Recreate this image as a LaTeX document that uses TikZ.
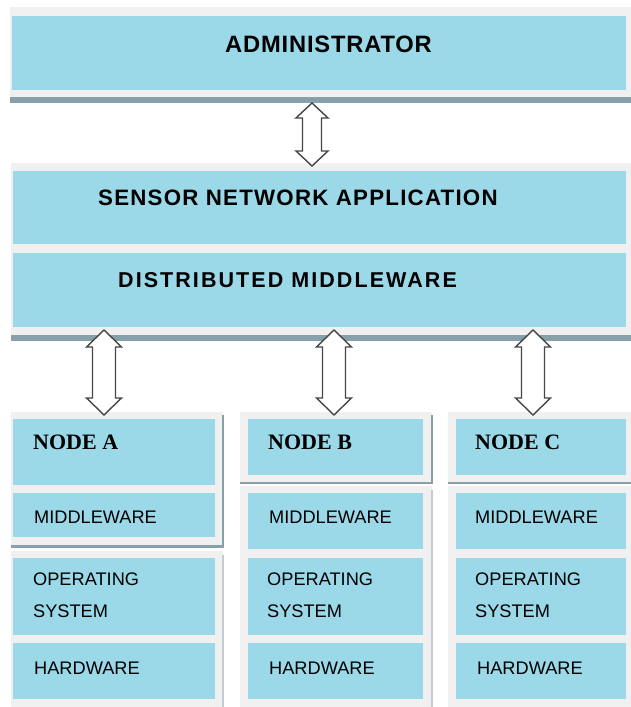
\documentclass[tikz,border=0pt]{standalone}
\usepackage{fontspec}
\setmainfont{Liberation Sans}
\newfontfamily\smallfont{Liberation Sans}
\newfontfamily\headA[LetterSpace=3.5]{Liberation Sans}
\newfontfamily\headB[LetterSpace=5.5]{Liberation Sans}
\newfontfamily\headC[LetterSpace=9.6]{Liberation Sans}
\newfontfamily\nodefont{Liberation Serif}
\definecolor{boxblue}{RGB}{155,216,232}
\definecolor{framegray}{RGB}{240,240,240}
\definecolor{shadowc}{RGB}{135,160,170}
\definecolor{edgec}{RGB}{150,170,178}
\definecolor{arrowc}{RGB}{70,70,70}
\tikzset{
  framebox/.style={fill=framegray, draw=none, inner sep=0pt, anchor=north west},
  bluebox/.style={fill=boxblue, draw=none, inner sep=0pt, anchor=north west},
  shadowbar/.style={fill=shadowc, draw=none},
  edgebar/.style={fill=edgec, draw=none},
  headtxt/.style={anchor=base west, inner sep=0pt, text=black},
  nodetxt/.style={anchor=base west, inner sep=0pt, text=black, font=\nodefont\bfseries\fontsize{22}{24}\selectfont},
  smalltxt/.style={anchor=base west, inner sep=0pt, text=black, font=\smallfont\fontsize{18.2}{20}\selectfont},
  blockarrow/.style={draw=arrowc, fill=white, line width=1.4pt, line join=miter}
}
% x, ytop, ybot, headhalf, shafthalf, headlen
\newcommand\dblarrow[6]{%
  \draw[blockarrow] (#1,#2) -- (#1+#4,#2+#6) -- (#1+#5,#2+#6) -- (#1+#5,#3-#6)
    -- (#1+#4,#3-#6) -- (#1,#3) -- (#1-#4,#3-#6) -- (#1-#5,#3-#6)
    -- (#1-#5,#2+#6) -- (#1-#4,#2+#6) -- cycle;}
\begin{document}
\begin{tikzpicture}[x=1pt,y=-1pt]
\useasboundingbox[fill=white] (0,0) rectangle (631,707);
% ---------- administrator ----------
\node[framebox, minimum width=621pt, minimum height=90pt] (adminframe) at (10,7) {};
\fill[shadowbar] (10,97) rectangle (631,103);
\node[bluebox, minimum width=614pt, minimum height=74pt] (admin) at (12,16) {};
\node[headtxt, font=\headA\bfseries\fontsize{23.7}{26}\selectfont] (admintxt) at (225,52) {ADMINISTRATOR};
% ---------- sensor network application / middleware ----------
\node[framebox, minimum width=620pt, minimum height=172pt] (midframe) at (11,163) {};
\fill[shadowbar] (11,335) rectangle (631,341);
\node[bluebox, minimum width=613pt, minimum height=73pt] (sna) at (13,171) {};
\node[bluebox, minimum width=613pt, minimum height=74pt] (dmw) at (13,253) {};
\node[headtxt, font=\headB\bfseries\fontsize{22.3}{24}\selectfont] (snatxt) at (98,205) {SENSOR NETWORK APPLICATION};
\node[headtxt, font=\headC\bfseries\fontsize{21.5}{24}\selectfont] (dmwtxt) at (118,287) {DISTRIBUTED MIDDLEWARE};
% ---------- node A ----------
\node[framebox, minimum width=212pt, minimum height=134pt] (aframe) at (11,412) {};
\fill[shadowbar] (11,545) rectangle (224,548);
\fill[shadowbar] (222,415) rectangle (224,548);
\node[framebox, minimum width=212pt, minimum height=156pt] (aframe2) at (11,551) {};
\fill[edgec!50!framegray] (222,555) rectangle (224,707);
\node[bluebox, minimum width=202pt, minimum height=66pt] (nodea) at (13,419) {};
\node[bluebox, minimum width=202pt, minimum height=44pt] (mwa) at (13,493) {};
\node[bluebox, minimum width=202pt, minimum height=77pt] (osa) at (13,558) {};
\node[bluebox, minimum width=202pt, minimum height=56pt] (hwa) at (13,643) {};
\node[nodetxt] (nodeatxt) at (33,449) {NODE A};
\node[smalltxt] (mwatxt) at (34,523) {MIDDLEWARE};
\node[smalltxt] (osatxt1) at (33,585) {OPERATING};
\node[smalltxt] (osatxt2) at (33,617) {SYSTEM};
\node[smalltxt] (hwatxt) at (34,674) {HARDWARE};
% ---------- node B ----------
\node[framebox, minimum width=192pt, minimum height=71pt] (bframe) at (240,412) {};
\fill[shadowbar] (240,482) rectangle (433,484);
\fill[shadowbar] (431,415) rectangle (433,484);
\node[framebox, minimum width=192pt, minimum height=221pt] (bframe2) at (240,486) {};
\fill[edgec!50!framegray] (431,490) rectangle (433,707);
\node[bluebox, minimum width=175pt, minimum height=56pt] (nodeb) at (248,419) {};
\node[bluebox, minimum width=175pt, minimum height=56pt] (mwb) at (248,493) {};
\node[bluebox, minimum width=175pt, minimum height=77pt] (osb) at (248,558) {};
\node[bluebox, minimum width=175pt, minimum height=56pt] (hwb) at (248,643) {};
\node[nodetxt] (nodebtxt) at (268,449) {NODE B};
\node[smalltxt] (mwbtxt) at (269,523) {MIDDLEWARE};
\node[smalltxt] (osbtxt1) at (267,585) {OPERATING};
\node[smalltxt] (osbtxt2) at (267,617) {SYSTEM};
\node[smalltxt] (hwbtxt) at (269,674) {HARDWARE};
% ---------- node C ----------
\node[framebox, minimum width=183pt, minimum height=71pt] (cframe) at (448,412) {};
\fill[shadowbar] (448,482) rectangle (631,484);
\node[framebox, minimum width=183pt, minimum height=221pt] (cframe2) at (448,486) {};
\node[bluebox, minimum width=170pt, minimum height=56pt] (nodec) at (456,419) {};
\node[bluebox, minimum width=170pt, minimum height=56pt] (mwc) at (456,493) {};
\node[bluebox, minimum width=170pt, minimum height=77pt] (osc) at (456,558) {};
\node[bluebox, minimum width=170pt, minimum height=56pt] (hwc) at (456,643) {};
\node[nodetxt] (nodectxt) at (475,449) {NODE C};
\node[smalltxt] (mwctxt) at (475,523) {MIDDLEWARE};
\node[smalltxt] (osctxt1) at (475,585) {OPERATING};
\node[smalltxt] (osctxt2) at (475,617) {SYSTEM};
\node[smalltxt] (hwctxt) at (477,674) {HARDWARE};
% ---------- arrows ----------
\dblarrow{312}{103}{166}{16}{9.5}{15}
\dblarrow{104}{330}{415}{17.5}{11.5}{17}
\dblarrow{334}{330}{415}{17.5}{11.5}{17}
\dblarrow{533}{330}{415}{17.5}{11.5}{17}
\end{tikzpicture}
\end{document}
